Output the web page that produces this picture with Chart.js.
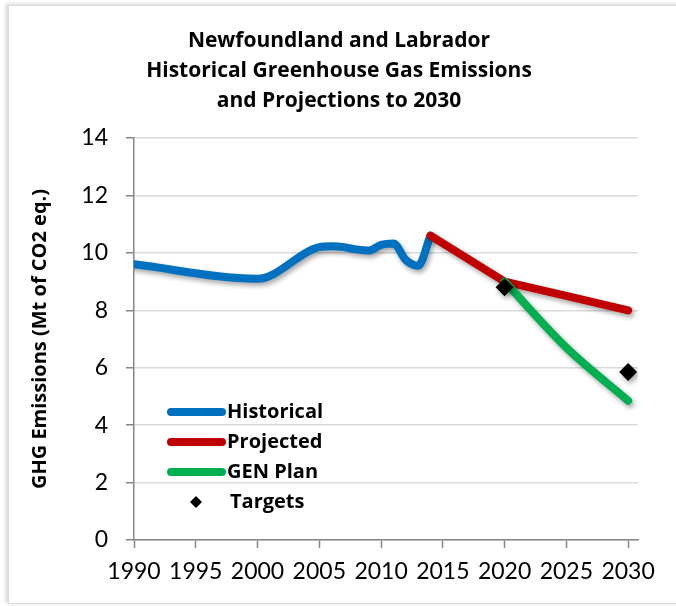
<!DOCTYPE html>
<html>
<head>
<meta charset="utf-8">
<script src="https://cdn.jsdelivr.net/npm/chart.js@4.4.1/dist/chart.umd.min.js"></script>
<style>
  html, body { margin: 0; padding: 0; background: #fff; overflow: hidden; }
  #frame {
    position: absolute; left: 8px; top: 5px; width: 720px; height: 597px;
    border: 1px solid #dcdcdc; box-shadow: -2px -1px 4px rgba(0, 0, 0, 0.18);
    background: #fff;
  }
  #chart { position: absolute; left: 0; top: 0; }
</style>
</head>
<body>
<div id="frame"></div>
<canvas id="chart" width="676" height="606"></canvas>
<script>
// --------------------
// Data (Mt of CO2 eq.)
// --------------------
const histYears  = [1990, 2000, 2005, 2006, 2007, 2008, 2009, 2010, 2011, 2012, 2013, 2014];
const histValues = [9.6, 9.1, 10.2, 10.23, 10.2, 10.12, 10.08, 10.28, 10.33, 9.75, 9.55, 10.6];

const projYears  = [2014, 2020, 2025, 2030];
const projValues = [10.6, 9.0, 8.5, 8.0];

const genYears  = [2020, 2025, 2030];
const genValues = [9.0, 6.7, 4.85];

const targetYears  = [2020, 2030];
const targetValues = [8.8, 5.85];

const xTicks = [1990, 1995, 2000, 2005, 2010, 2015, 2020, 2025, 2030];
const yTicks = [0, 2, 4, 6, 8, 10, 12, 14];

const TICK_FONT = 'Lato, "Open Sans", sans-serif';
const BOLD_FONT = '"Open Sans", Lato, sans-serif';

function toPoints(xs, ys) {
  return xs.map((x, i) => ({ x: x, y: ys[i] }));
}

// --------------------
// Plugins
// --------------------
// soft drop shadow under the series, like the Excel original
const lineShadow = {
  id: 'lineShadow',
  beforeDatasetDraw(chart) {
    const ctx = chart.ctx;
    ctx.save();
    ctx.shadowColor = 'rgba(0, 0, 0, 0.35)';
    ctx.shadowBlur = 5;
    ctx.shadowOffsetX = 2;
    ctx.shadowOffsetY = 3;
  },
  afterDatasetDraw(chart) {
    chart.ctx.restore();
  }
};

// legend sits inside the plot, lower left
const insideLegend = {
  id: 'insideLegend',
  afterDraw(chart) {
    const ctx = chart.ctx;
    const x0 = 167, y0 = 412, rowH = 30;
    ctx.save();
    ctx.font = 'bold 20px ' + BOLD_FONT;
    ctx.textBaseline = 'middle';
    chart.data.datasets.forEach((ds, i) => {
      const y = y0 + i * rowH;
      if (ds.showLine === false) {
        ctx.fillStyle = ds.backgroundColor;
        ctx.beginPath();
        ctx.moveTo(196, y - 6);
        ctx.lineTo(202, y);
        ctx.lineTo(196, y + 6);
        ctx.lineTo(190, y);
        ctx.closePath();
        ctx.fill();
        ctx.fillStyle = '#000';
        ctx.fillText(ds.label, 230, y);
      } else {
        ctx.strokeStyle = ds.borderColor;
        ctx.lineWidth = 8;
        ctx.lineCap = 'round';
        ctx.beginPath();
        ctx.moveTo(x0 + 4, y);
        ctx.lineTo(x0 + 55, y);
        ctx.stroke();
        ctx.fillStyle = '#000';
        ctx.fillText(ds.label, 227, y);
      }
    });
    ctx.restore();
  }
};

// --------------------
// Chart
// --------------------
const lineBase = {
  borderWidth: 8,
  borderCapStyle: 'round',
  borderJoinStyle: 'round',
  pointRadius: 0,
  fill: false
};

new Chart(document.getElementById('chart'), {
  type: 'line',
  data: {
    datasets: [
      Object.assign({}, lineBase, {
        label: 'Historical',
        data: toPoints(histYears, histValues),
        borderColor: '#0070C0',
        cubicInterpolationMode: 'monotone',
        order: 3
      }),
      Object.assign({}, lineBase, {
        label: 'Projected',
        data: toPoints(projYears, projValues),
        borderColor: '#C00000',
        tension: 0,
        order: 2
      }),
      Object.assign({}, lineBase, {
        label: 'GEN Plan',
        data: toPoints(genYears, genValues),
        borderColor: '#00B050',
        cubicInterpolationMode: 'monotone',
        order: 1
      }),
      {
        label: 'Targets',
        data: toPoints(targetYears, targetValues),
        showLine: false,
        pointStyle: 'rectRot',
        pointRadius: 9,
        backgroundColor: '#000',
        borderColor: '#000',
        borderWidth: 0,
        order: 0
      }
    ]
  },
  options: {
    responsive: false,
    animation: false,
    layout: { padding: { left: 40, right: 38, top: 0, bottom: 0 } },
    plugins: {
      legend: { display: false },
      tooltip: { enabled: false },
      title: {
        display: true,
        text: [
          'Newfoundland and Labrador',
          'Historical Greenhouse Gas Emissions',
          'and Projections to 2030'
        ],
        color: '#000',
        font: { family: BOLD_FONT, size: 21, weight: 'bold', lineHeight: '30px' },
        padding: { top: 26, bottom: 22 }
      }
    },
    scales: {
      x: {
        type: 'linear',
        min: 1990,
        max: 2030.8,
        afterBuildTicks: (s) => { s.ticks = xTicks.map(v => ({ value: v })); },
        afterFit: (s) => { s.height = 66; },
        border: { color: '#868686', width: 1.5 },
        grid: { drawOnChartArea: false, tickLength: 8, tickColor: '#868686', tickWidth: 1.5 },
        ticks: {
          color: '#000',
          padding: 10,
          maxRotation: 0,
          font: { family: TICK_FONT, size: 23 },
          callback: (v) => String(v)
        }
      },
      y: {
        min: 0,
        max: 14,
        afterBuildTicks: (s) => { s.ticks = yTicks.map(v => ({ value: v })); },
        afterFit: (s) => { s.width = 94; },
        border: { color: '#868686', width: 1.5 },
        grid: { color: '#D9D9D9', lineWidth: 1.5, tickLength: 8, tickColor: '#868686', tickWidth: 1.5 },
        ticks: {
          color: '#000',
          padding: 18,
          font: { family: TICK_FONT, size: 23 }
        },
        title: {
          display: true,
          text: 'GHG Emissions (Mt of CO2 eq.)',
          color: '#000',
          font: { family: BOLD_FONT, size: 20, weight: 'bold', lineHeight: 1.2 },
          padding: { top: -12, bottom: 0 }
        }
      }
    }
  },
  plugins: [lineShadow, insideLegend]
});
</script>
</body>
</html>
